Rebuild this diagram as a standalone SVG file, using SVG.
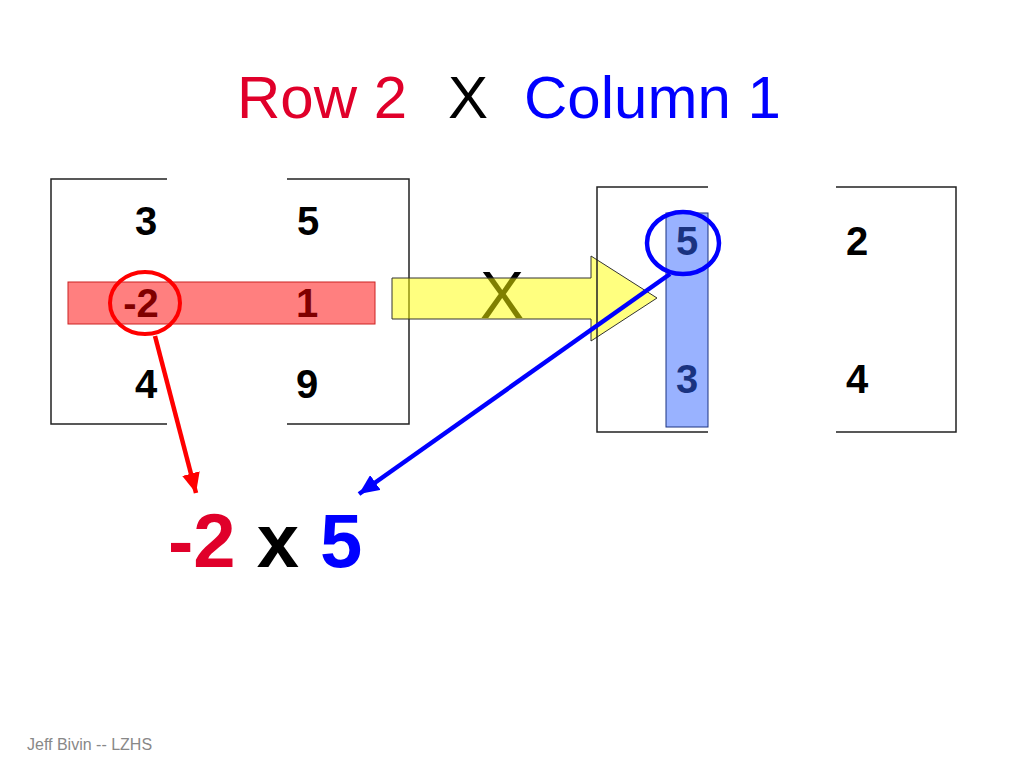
<svg xmlns="http://www.w3.org/2000/svg" width="1024" height="768" viewBox="0 0 1024 768">
<style>
text{font-family:"Liberation Sans",Arial,sans-serif}
.num{font-size:40px;font-weight:bold;text-anchor:middle;fill:#000}
.br{fill:none;stroke:#222;stroke-width:1.5}
</style>
<defs>
<marker id="ahR" markerUnits="userSpaceOnUse" markerWidth="22" markerHeight="18" refX="20" refY="9" orient="auto"><path d="M0,0 L20,9 L0,18 Z" fill="#ff0000"/></marker>
<marker id="ahB" markerUnits="userSpaceOnUse" markerWidth="22" markerHeight="18" refX="20" refY="9" orient="auto"><path d="M0,0 L20,9 L0,18 Z" fill="#0000ff"/></marker>
</defs>
<rect width="1024" height="768" fill="#fff"/>
<g id="title" font-size="60">
<text x="237" y="118" fill="#e0002a">Row 2</text>
<text x="448" y="118" fill="#000">X</text>
<text x="524" y="118" fill="#0000ff">Column 1</text>
</g>
<g id="matrixA">
<path class="br" d="M167,179 H51 V424 H167"/>
<path class="br" d="M287,179 H409 V424 H287"/>
<text class="num" x="146" y="235">3</text>
<text class="num" x="308" y="235">5</text>
<text class="num" x="141" y="317">-2</text>
<text class="num" x="307" y="317">1</text>
<text class="num" x="146" y="398">4</text>
<text class="num" x="307" y="398">9</text>
<rect x="68" y="282" width="307" height="42" fill="#ff0000" fill-opacity="0.5" stroke="#cc2222" stroke-width="1"/>
<ellipse cx="145" cy="303" rx="35" ry="31" fill="none" stroke="#ff0000" stroke-width="4"/>
</g>
<g id="times">
<text x="502" y="318" font-size="66" text-anchor="middle" fill="#000">X</text>
<path d="M392,278 H591 V256 L657,298 L591,341 V319 H392 Z" fill="#ffff00" fill-opacity="0.5" stroke="#333" stroke-width="1"/>
</g>
<g id="matrixB">
<path class="br" d="M708,187 H597 V432 H708"/>
<path class="br" d="M836,187 H956 V432 H836"/>
<text class="num" x="687" y="255">5</text>
<text class="num" x="687" y="393">3</text>
<text class="num" x="857" y="255">2</text>
<text class="num" x="857" y="393">4</text>
<rect x="666" y="213" width="42" height="214" fill="#3366ff" fill-opacity="0.5" stroke="#1a3380" stroke-width="1"/>
<ellipse cx="683" cy="243" rx="36" ry="31" fill="none" stroke="#0000ff" stroke-width="4.5"/>
</g>
<g id="connectors">
<line x1="155" y1="336" x2="196" y2="493" stroke="#ff0000" stroke-width="4.5" marker-end="url(#ahR)"/>
<line x1="670" y1="274" x2="359" y2="494" stroke="#0000ff" stroke-width="4.5" marker-end="url(#ahB)"/>
</g>
<g id="result" font-size="76" font-weight="bold">
<text x="168" y="567"><tspan fill="#e0002a">-2</tspan><tspan fill="#000"> x </tspan><tspan fill="#0000ff">5</tspan></text>
</g>
<text id="footer" x="27" y="750" font-size="16" fill="#888">Jeff Bivin -- LZHS</text>
</svg>
